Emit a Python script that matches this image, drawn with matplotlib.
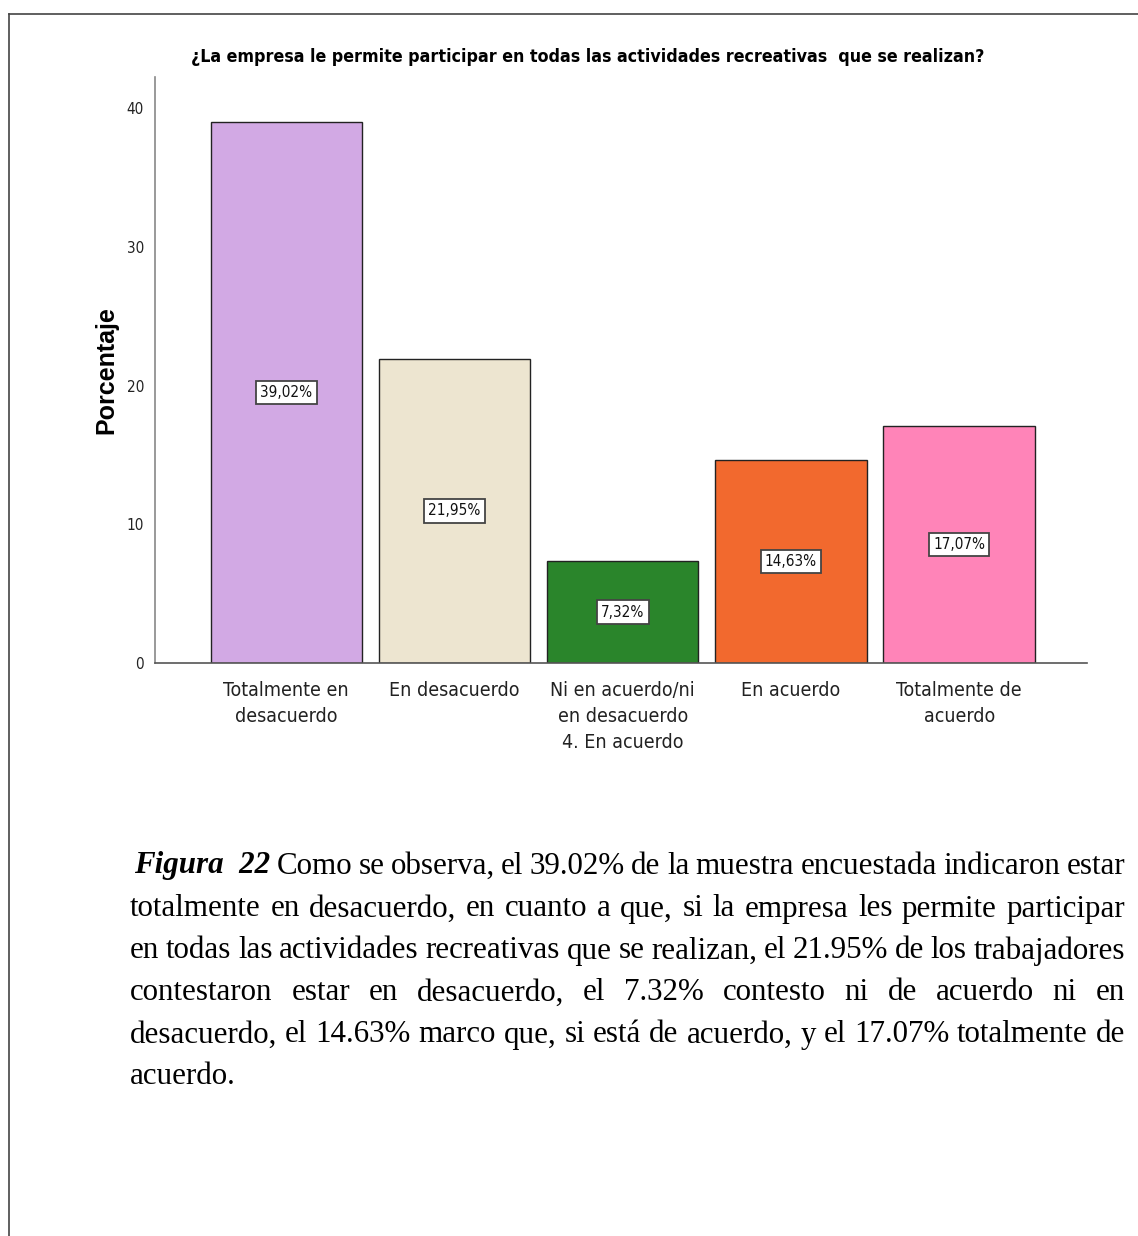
import matplotlib
matplotlib.use("Agg")
import matplotlib.pyplot as plt
from matplotlib import font_manager as fm
from matplotlib.lines import Line2D

categories = ["Totalmente en\ndesacuerdo", "En desacuerdo",
              "Ni en acuerdo/ni\nen desacuerdo\n4. En acuerdo",
              "En acuerdo", "Totalmente de\nacuerdo"]
values = [39.02, 21.95, 7.32, 14.63, 17.07]
value_labels = ["39,02%", "21,95%", "7,32%", "14,63%", "17,07%"]
colors = ["#D2A9E4", "#EDE5D0", "#2A852B", "#F2692E", "#FF84B8"]
yticks = [0, 10, 20, 30, 40]
title = "¿La empresa le permite participar en todas las actividades recreativas  que se realizan?"
ylabel = "Porcentaje"
caption_lines = [
    "Como se observa, el 39.02% de la muestra encuestada indicaron estar",
    "totalmente en desacuerdo, en cuanto a que, si la empresa les permite participar",
    "en todas las actividades recreativas que se realizan, el 21.95% de los trabajadores",
    "contestaron estar en desacuerdo, el 7.32% contesto ni de acuerdo ni en",
    "desacuerdo, el 14.63% marco que, si está de acuerdo, y el 17.07% totalmente de",
    "acuerdo.",
]

names = {f.name for f in fm.fontManager.ttflist}
if "Liberation Sans Narrow" in names:
    NARROW = dict(family="Liberation Sans Narrow")
else:
    NARROW = dict(family="DejaVu Sans", fontstretch="condensed")
sans = "Liberation Sans" if "Liberation Sans" in names else "DejaVu Sans"
serif = "Liberation Serif" if "Liberation Serif" in names else "DejaVu Serif"

W, H = 1138, 1236
fig = plt.figure(figsize=(W / 100, H / 100), dpi=100)

# page border lines
fig.add_artist(Line2D([9 / W, 1.0], [1 - 14 / H, 1 - 14 / H], transform=fig.transFigure,
                      color="#444444", lw=1.2))
fig.add_artist(Line2D([9 / W, 9 / W], [0, 1 - 14 / H], transform=fig.transFigure,
                      color="#444444", lw=1.2))

ax = fig.add_axes([155 / W, 1 - 663 / H, (1087 - 155) / W, (663 - 77) / H])
x = list(range(len(values)))
ax.bar(x, values, width=0.9, color=colors, edgecolor="#222222", linewidth=1.0, zorder=2)
ax.set_xlim(-0.78, 4.76)
ax.set_ylim(0, 42.25)
ax.set_yticks(yticks)
ax.set_yticklabels([str(t) for t in yticks], fontsize=11, color="#222222", **NARROW)
ax.set_xticks(x)
ax.set_xticklabels(categories, fontsize=14, linespacing=1.45, color="#222222", **NARROW)
ax.tick_params(axis="both", length=0)
ax.tick_params(axis="y", pad=8)
ax.tick_params(axis="x", pad=13)
for s in ["top", "right"]:
    ax.spines[s].set_visible(False)
ax.spines["left"].set_color("#888888")
ax.spines["bottom"].set_color("#555555")
ax.spines["left"].set_linewidth(1.2)
ax.spines["bottom"].set_linewidth(1.2)
ax.set_ylabel(ylabel, fontsize=18, fontweight="bold", family=sans)
ax.yaxis.set_label_coords((118 - 155) / 932, 0.5)

for xi, v, lab in zip(x, values, value_labels):
    ax.text(xi, v / 2, lab, ha="center", va="center", fontsize=11, color="#111111",
            bbox=dict(boxstyle="square,pad=0.28", fc="white", ec="#444444", lw=1.3),
            zorder=3, **NARROW)

fig.text(588 / W, 1 - 57 / H, title, ha="center", va="center", fontsize=12.8,
         fontweight="bold", **NARROW)

# caption, justified
fig.canvas.draw()
renderer = fig.canvas.get_renderer()
left_px, right_px = 130, 1125
line_y = [866, 909, 951, 993, 1035, 1077]


def width_of(t):
    return t.get_window_extent(renderer=renderer).width


def build_items(i):
    items = []
    if i == 0:
        items.append(("Figura  22", dict(fontweight="bold", style="italic")))
    for w in caption_lines[i].split(" "):
        items.append((w, {}))
    return items


def space_width(fs):
    a = fig.text(0, 0, "a a", fontsize=fs, family=serif)
    b = fig.text(0, 0, "aa", fontsize=fs, family=serif)
    sw = width_of(a) - width_of(b)
    a.remove(); b.remove()
    return sw


# pick font size so that the fullest line fits with slightly tight spacing
fs0 = 17.0
sw0 = space_width(fs0)
ratios = []
for i in range(len(caption_lines) - 1):
    items = build_items(i)
    tmp = [fig.text(0, 0, w, fontsize=fs0, family=serif, **kw) for w, kw in items]
    nat = sum(width_of(t) for t in tmp) + 0.8 * sw0 * (len(tmp) - 1)
    for t in tmp:
        t.remove()
    ratios.append((right_px - left_px - 4) / nat)
fs = fs0 * min(ratios)
sw = space_width(fs)

for i in range(len(caption_lines)):
    y = 1 - line_y[i] / H
    items = build_items(i)
    texts = [fig.text(0, y, w, ha="left", va="center", fontsize=fs, family=serif, **kw)
             for w, kw in items]
    widths = [width_of(t) for t in texts]
    start = left_px + (4 if i == 0 else 0)
    if i < len(caption_lines) - 1:
        gap = (right_px - start - sum(widths)) / (len(texts) - 1)
    else:
        gap = sw
    xpos = start
    for t, w in zip(texts, widths):
        t.set_x(xpos / W)
        xpos += w + gap

fig.savefig("out.png", dpi=100)
